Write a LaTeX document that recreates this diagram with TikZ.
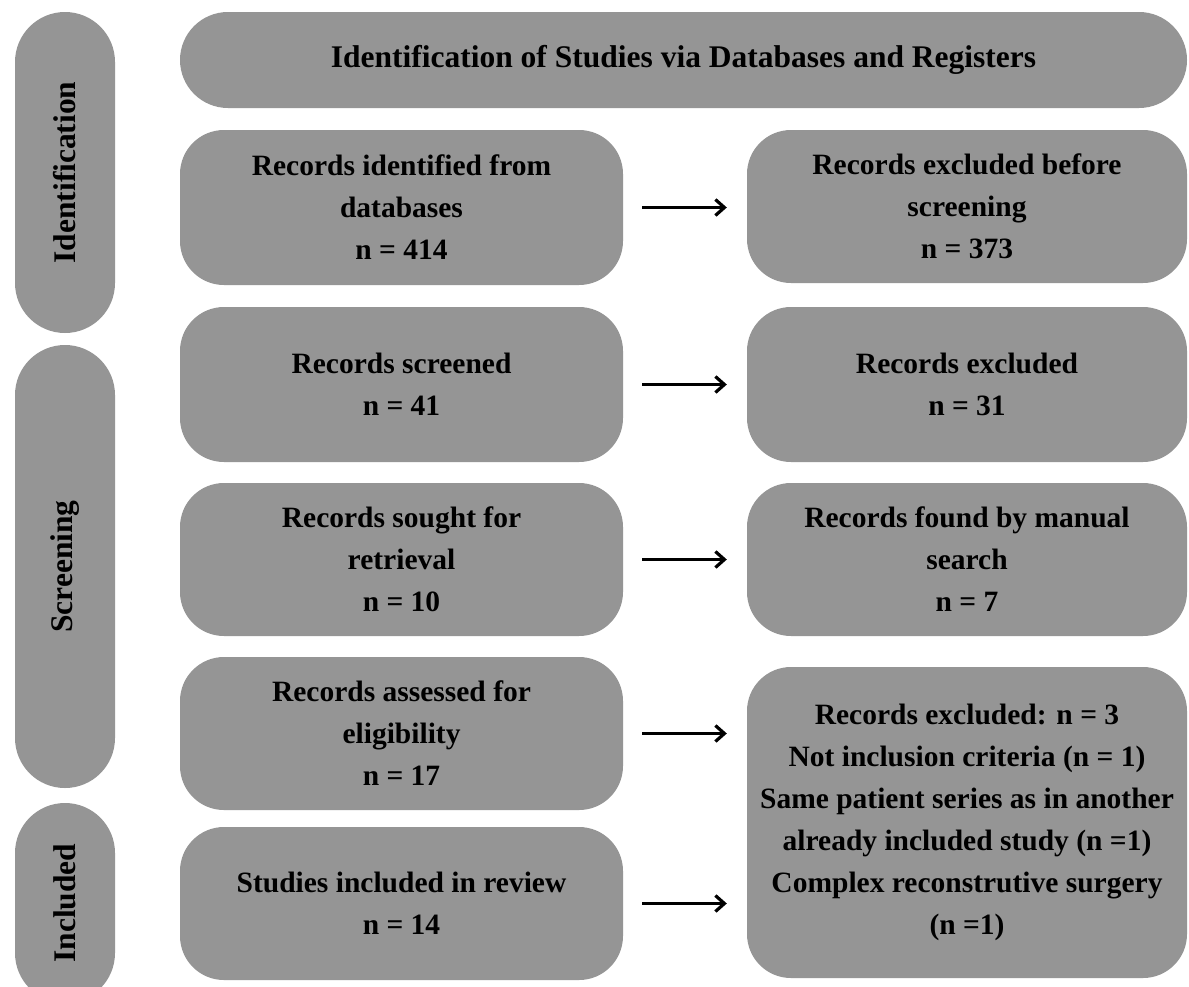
\documentclass[tikz,border=0pt]{standalone}
\usepackage{fontspec}
\setmainfont{Liberation Serif}
\usetikzlibrary{arrows.meta}
\definecolor{boxgray}{RGB}{149,149,149}
\tikzset{
  txt/.style={font=\bfseries\fontsize{29.5}{42}\selectfont, text=black, align=center, inner sep=0pt},
  bigtxt/.style={txt, font=\bfseries\fontsize{31.5}{42}\selectfont},
  stepbox/.style={txt, fill=boxgray, rounded corners=44pt, minimum height=155pt},
  leftbox/.style={stepbox, minimum width=443pt},
  rightbox/.style={stepbox, minimum width=440pt},
  header/.style={bigtxt, fill=boxgray, rounded corners=48pt, minimum width=1007pt, minimum height=96pt},
  phase/.style={bigtxt, fill=boxgray, rounded corners=50pt, rotate=90, minimum height=100pt},
  arr/.style={line width=3.2pt, -{Straight Barb[length=9pt,width=16pt,line width=3.2pt]}, shorten <=19pt, shorten >=20pt}
}
\begin{document}
\begin{tikzpicture}[x=1pt,y=-1pt]
\clip (0,0) rectangle (1189,986);
\fill[white] (0,0) rectangle (1189,986);
% phase bars
\node[phase, minimum width=321pt] (pid) at (65,172.5) {Identification};
\node[phase, minimum width=443pt] (pscr) at (65,566.5) {Screening};
\node[phase, minimum width=200pt] (pinc) at (65,903) {Included};
% header
\node[header] (hdr) at (683.5,60) {Identification of Studies via Databases and Registers};
% left column
\node[leftbox] (l1) at (401.5,207.5) {Records identified from\\databases\\n = 414};
\node[leftbox] (l2) at (401.5,384.5) {Records screened\\n = 41};
\node[leftbox, minimum height=153pt] (l3) at (401.5,559.5) {Records sought for\\retrieval\\n = 10};
\node[leftbox, minimum height=153pt] (l4) at (401.5,733.5) {Records assessed for\\eligibility\\n = 17};
\node[leftbox, minimum height=153pt] (l5) at (401.5,903.5) {Studies included in review\\n = 14};
% right column
\node[rightbox, minimum height=153pt] (r1) at (967,206.5) {Records excluded before\\screening\\n = 373};
\node[rightbox] (r2) at (967,384.5) {Records excluded\\n = 31};
\node[rightbox, minimum height=153pt] (r3) at (967,559.5) {Records found by manual\\search\\n = 7};
\node[rightbox, minimum height=311pt] (r4) at (967,822.5) {Records excluded: n = 3\\Not inclusion criteria (n = 1)\\Same patient series as in another\\already included study (n =1)\\Complex reconstrutive surgery\\(n =1)};
% arrows
\draw[arr] (l1.east) -- (l1.east -| r1.west);
\draw[arr] (l2.east) -- (l2.east -| r2.west);
\draw[arr] (l3.east) -- (l3.east -| r3.west);
\draw[arr] (l4.east) -- (l4.east -| r4.west);
\draw[arr] (l5.east) -- (l5.east -| r4.west);
\end{tikzpicture}
\end{document}
